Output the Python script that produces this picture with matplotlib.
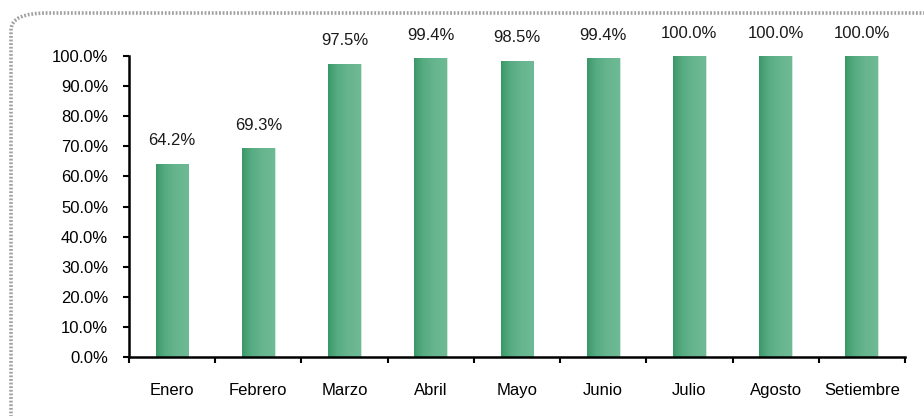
import numpy as np
import matplotlib.pyplot as plt
from matplotlib.patches import FancyBboxPatch
from matplotlib.colors import LinearSegmentedColormap

# data
meses = ["Enero", "Febrero", "Marzo", "Abril", "Mayo", "Junio", "Julio", "Agosto", "Setiembre"]
avance = [64.2, 69.3, 97.5, 99.4, 98.5, 99.4, 100.0, 100.0, 100.0]
etiquetas = ["64.2%", "69.3%", "97.5%", "99.4%", "98.5%", "99.4%", "100.0%", "100.0%", "100.0%"]

plt.rcParams['font.family'] = ['Liberation Sans', 'DejaVu Sans']

fig = plt.figure(figsize=(9.24, 4.16), dpi=100)
ax = fig.add_axes([0.1396, 0.1418, 0.9794 - 0.1396, 0.8654 - 0.1418])

# dotted rounded frame around the chart (runs off right/bottom edges)
frame = FancyBboxPatch((11 / 924, -0.2), 1.2, 1 - 13 / 416 + 0.2,
                       boxstyle="round,pad=0,rounding_size=0.04",
                       transform=fig.transFigure, fill=False,
                       edgecolor="#a0a0a0", linewidth=2.6,
                       linestyle=(0, (0.5, 0.5)), zorder=0)
fig.patches.append(frame)

x = np.arange(len(meses))
bars = ax.bar(x, avance, width=0.38, color="#64b38c", edgecolor="#d6ece0",
              linewidth=0.6, zorder=2)

# horizontal gradient, darker on the left side
cmap = LinearSegmentedColormap.from_list(
    "verde", [(0, "#3a9868"), (0.25, "#55aa80"), (0.6, "#66b58e"), (1, "#6eba94")])
grad = np.linspace(0, 1, 64).reshape(1, -1)
for b in bars:
    im = ax.imshow(grad, cmap=cmap, aspect="auto", zorder=2.5,
                   extent=[b.get_x(), b.get_x() + b.get_width(), 0, b.get_height()])
    im.set_clip_path(b)

for xi, v, t in zip(x, avance, etiquetas):
    ax.annotate(t, (xi, v), xytext=(0, 11), textcoords="offset points",
                ha="center", va="bottom", fontsize=12, color="#1a1a1a")

ax.set_xlim(-0.5, len(meses) - 0.5)
ax.set_ylim(0, 100)
ax.set_yticks(np.arange(0, 101, 10))
ax.set_yticklabels([f"{v:.1f}%" for v in np.arange(0, 101, 10)])

ax.set_xticks(np.arange(-0.5, len(meses), 1))
ax.set_xticklabels([])
ax.set_xticks(x, minor=True)
ax.set_xticklabels(meses, minor=True)
ax.tick_params(axis="x", which="minor", length=0, pad=19, labelsize=12)
ax.tick_params(axis="x", which="major", direction="out", length=4, width=1.5)
ax.tick_params(axis="y", direction="out", length=4, width=1.5, pad=11, labelsize=12)

for s in ["top", "right"]:
    ax.spines[s].set_visible(False)
for s in ["left", "bottom"]:
    ax.spines[s].set_linewidth(1.8)

fig.savefig("out.png", dpi=100)
